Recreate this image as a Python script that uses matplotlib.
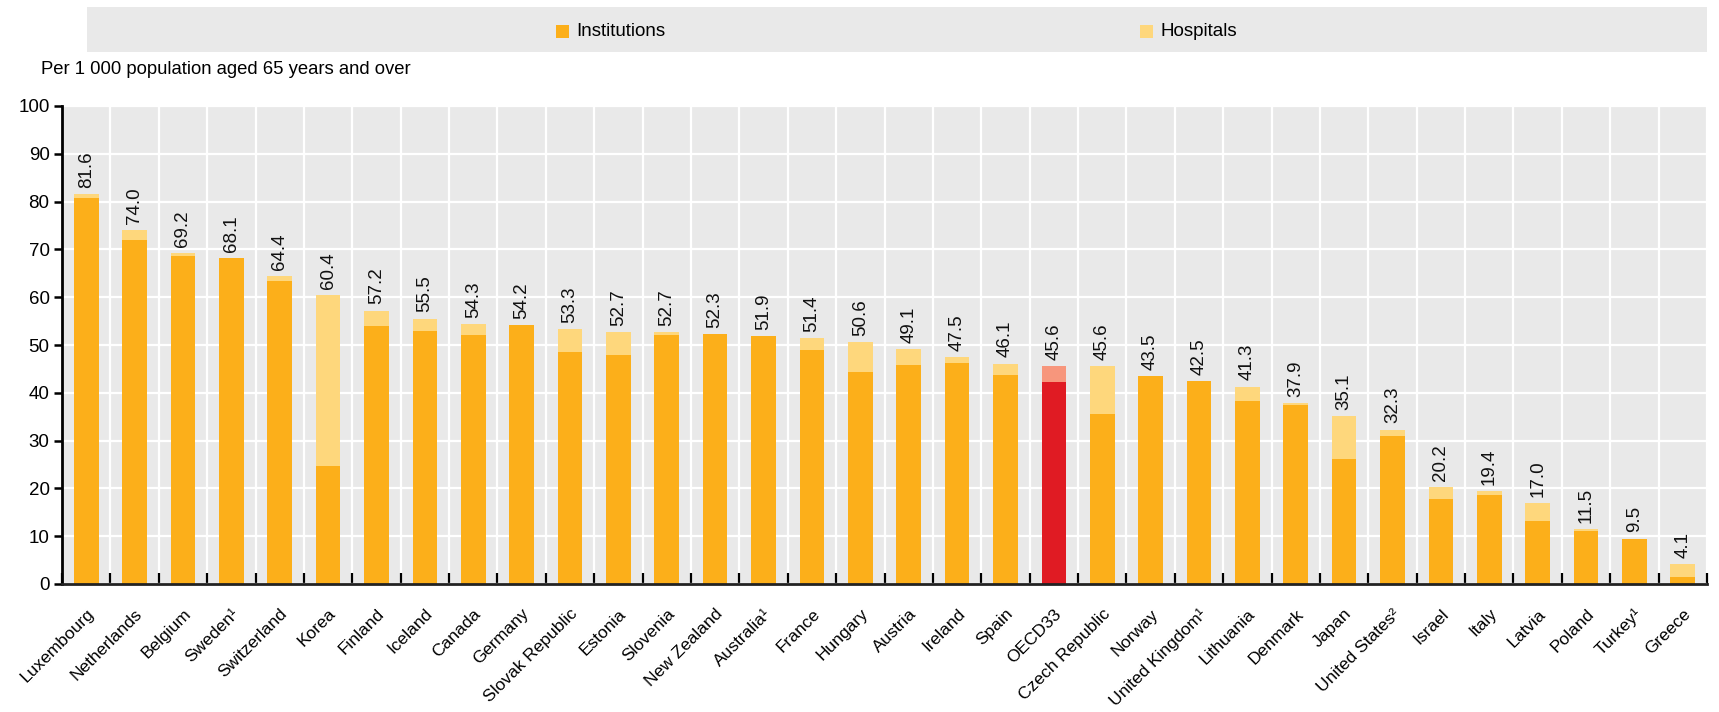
import matplotlib.pyplot as plt
import numpy as np
from matplotlib.patches import Rectangle

plt.rcParams['font.family'] = ['Liberation Sans Narrow', 'Liberation Sans', 'DejaVu Sans']

countries = ['Luxembourg', 'Netherlands', 'Belgium', 'Sweden¹', 'Switzerland', 'Korea',
             'Finland', 'Iceland', 'Canada', 'Germany', 'Slovak Republic', 'Estonia',
             'Slovenia', 'New Zealand', 'Australia¹', 'France', 'Hungary', 'Austria',
             'Ireland', 'Spain', 'OECD33', 'Czech Republic', 'Norway', 'United Kingdom¹',
             'Lithuania', 'Denmark', 'Japan', 'United States²', 'Israel', 'Italy',
             'Latvia', 'Poland', 'Turkey¹', 'Greece']
totals = [81.6, 74.0, 69.2, 68.1, 64.4, 60.4, 57.2, 55.5, 54.3, 54.2, 53.3, 52.7,
          52.7, 52.3, 51.9, 51.4, 50.6, 49.1, 47.5, 46.1, 45.6, 45.6, 43.5, 42.5,
          41.3, 37.9, 35.1, 32.3, 20.2, 19.4, 17.0, 11.5, 9.5, 4.1]
institutions = [80.8, 72.0, 68.6, 68.1, 63.4, 24.7, 54.0, 53.0, 52.0, 54.2, 48.6, 48.0,
                52.0, 52.3, 51.9, 49.0, 44.4, 45.9, 46.3, 43.7, 42.2, 35.5, 43.5, 42.5,
                38.3, 37.4, 26.1, 31.0, 17.8, 18.6, 13.2, 11.1, 9.5, 1.5]
hospitals = [t - i for t, i in zip(totals, institutions)]

c_inst = '#FCAF1A'
c_hosp = '#FED77C'
c_oecd = '#E01B23'
c_oecd_h = '#F7967C'
bg = '#E9E9E9'

W, H = 1719, 712
fig = plt.figure(figsize=(W / 100, H / 100), dpi=100)
ax = fig.add_axes([62 / W, 1 - 584 / H, (1707 - 62) / W, (584 - 106) / H])
ax.set_facecolor(bg)

x = np.arange(len(countries))
inst_cols = [c_oecd if c == 'OECD33' else c_inst for c in countries]
hosp_cols = [c_oecd_h if c == 'OECD33' else c_hosp for c in countries]
ax.bar(x, institutions, width=0.51, color=inst_cols, zorder=3)
ax.bar(x, hospitals, bottom=institutions, width=0.51, color=hosp_cols, zorder=3)

for xi, t in zip(x, totals):
    ax.text(xi, t + 1.3, f'{t:.1f}', rotation=90, ha='center', va='bottom',
            fontsize=13.5, color='#111111')

ax.set_xlim(-0.5, len(countries) - 0.5)
ax.set_ylim(0, 100)
ax.set_yticks(np.arange(0, 101, 10))
ax.set_xticks(x)
ax.set_xticklabels(countries, rotation=45, ha='right', rotation_mode='anchor', fontsize=12.5)
ax.set_xticks(np.arange(-0.5, len(countries), 1), minor=True)

ax.tick_params(axis='x', which='major', length=0, pad=16)
ax.tick_params(axis='x', which='minor', direction='in', length=8, width=1.6, color='black')
ax.tick_params(axis='y', direction='out', length=6, width=1.8, labelsize=13.5, pad=3)

ax.grid(axis='y', color='white', lw=1.6, zorder=1)
ax.grid(axis='x', which='minor', color='white', lw=1.6, zorder=1)
ax.set_axisbelow(True)

for s in ['top', 'right']:
    ax.spines[s].set_visible(False)
ax.spines['left'].set_linewidth(2)
ax.spines['bottom'].set_linewidth(2)
ax.spines['bottom'].set_color('#222222')
ax.spines['bottom'].set_zorder(4)

# legend band
fig.patches.append(Rectangle((87 / W, 1 - 52 / H), (1707 - 87) / W, 45 / H,
                             transform=fig.transFigure, facecolor=bg, edgecolor='none'))
for mx, lab, col in [(556, 'Institutions', c_inst), (1140, 'Hospitals', c_hosp)]:
    fig.patches.append(Rectangle((mx / W, 1 - 38 / H), 13 / W, 13 / H,
                                 transform=fig.transFigure, facecolor=col, edgecolor='none'))
    fig.text((mx + 20) / W, 1 - 31 / H, lab, fontsize=13.5, va='center', ha='left')

fig.text(41 / W, 1 - 70 / H, 'Per 1 000 population aged 65 years and over',
         fontsize=13.3, va='center', ha='left')

fig.savefig('out.png', dpi=100)
